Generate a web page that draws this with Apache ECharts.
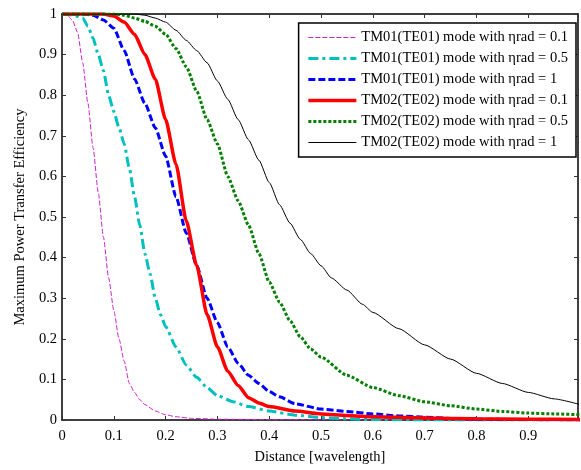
<!DOCTYPE html>
<html>
<head>
<meta charset="utf-8">
<script src="https://cdn.jsdelivr.net/npm/echarts@6/dist/echarts.min.js"></script>
<style>
  html, body { margin: 0; padding: 0; background: #fff; }
  #chart { width: 581px; height: 470px; }
</style>
</head>
<body>
<div id="chart"></div>
<script>
// series names (legend)
const names = [
  'TM01(TE01) mode with ηrad = 0.1',
  'TM01(TE01) mode with ηrad = 0.5',
  'TM01(TE01) mode with ηrad = 1',
  'TM02(TE02) mode with ηrad = 0.1',
  'TM02(TE02) mode with ηrad = 0.5',
  'TM02(TE02) mode with ηrad = 1',
];

// TM01, ηrad = 0.1
const x1 = [0, 0.01, 0.02, 0.03, 0.04, 0.05, 0.06, 0.07, 0.08, 0.09, 0.1, 0.11, 0.12, 0.13, 0.14, 0.15, 0.16, 0.18, 0.2, 0.22, 0.25, 0.3, 0.4, 0.6, 1];
const y1 = [1, 0.997, 0.985, 0.955, 0.88, 0.78, 0.67, 0.56, 0.45, 0.35, 0.27, 0.2, 0.145, 0.09, 0.068, 0.05, 0.038, 0.022, 0.013, 0.008, 0.004, 0.002, 0.001, 0.0005, 0];

// TM01, ηrad = 0.5
const x2 = [0, 0.02, 0.04, 0.05, 0.06, 0.07, 0.08, 0.09, 0.1, 0.11, 0.12, 0.13, 0.14, 0.15, 0.16, 0.17, 0.18, 0.19, 0.2, 0.22, 0.24, 0.26, 0.28, 0.3, 0.33, 0.36, 0.4, 0.45, 0.5, 0.55, 0.6, 0.7, 1];
const y2 = [1, 0.998, 0.99, 0.97, 0.94, 0.9, 0.86, 0.8, 0.76, 0.72, 0.68, 0.62, 0.55, 0.48, 0.41, 0.36, 0.3, 0.26, 0.23, 0.18, 0.135, 0.105, 0.08, 0.06, 0.045, 0.033, 0.022, 0.012, 0.006, 0.003, 0.001, 0, 0];

// TM01, ηrad = 1
const x3 = [0, 0.04, 0.06, 0.08, 0.1, 0.12, 0.14, 0.16, 0.18, 0.2, 0.22, 0.24, 0.26, 0.28, 0.3, 0.32, 0.34, 0.36, 0.38, 0.4, 0.42, 0.45, 0.5, 0.55, 0.6, 0.65, 0.7, 0.75, 0.8, 0.9, 1];
const y3 = [1, 1, 0.997, 0.985, 0.965, 0.91, 0.84, 0.78, 0.72, 0.65, 0.55, 0.46, 0.38, 0.3, 0.24, 0.18, 0.14, 0.11, 0.09, 0.07, 0.057, 0.04, 0.027, 0.021, 0.015, 0.01, 0.007, 0.004, 0.002, 0.001, 0];

// TM02, ηrad = 0.1
const x4 = [0, 0.08, 0.1, 0.12, 0.14, 0.16, 0.18, 0.2, 0.22, 0.24, 0.26, 0.28, 0.3, 0.32, 0.34, 0.36, 0.38, 0.4, 0.45, 0.5, 0.55, 0.6, 0.7, 0.8, 0.9, 1];
const y4 = [1, 1, 0.995, 0.98, 0.95, 0.9, 0.84, 0.74, 0.63, 0.49, 0.38, 0.26, 0.18, 0.12, 0.085, 0.055, 0.042, 0.033, 0.022, 0.015, 0.011, 0.008, 0.005, 0.003, 0.002, 0.001];

// TM02, ηrad = 0.5
const x5 = [0, 0.1, 0.12, 0.14, 0.16, 0.18, 0.2, 0.22, 0.24, 0.26, 0.28, 0.3, 0.32, 0.34, 0.36, 0.38, 0.4, 0.42, 0.44, 0.46, 0.48, 0.5, 0.55, 0.6, 0.65, 0.7, 0.75, 0.8, 0.85, 0.9, 0.95, 1];
const y5 = [1, 1, 0.997, 0.99, 0.982, 0.97, 0.95, 0.915, 0.87, 0.81, 0.74, 0.68, 0.6, 0.54, 0.48, 0.41, 0.34, 0.29, 0.245, 0.205, 0.175, 0.155, 0.11, 0.08, 0.06, 0.045, 0.035, 0.027, 0.021, 0.017, 0.015, 0.013];

// TM02, ηrad = 1
const x6 = [0, 0.14, 0.16, 0.18, 0.2, 0.22, 0.24, 0.26, 0.28, 0.3, 0.32, 0.34, 0.36, 0.38, 0.4, 0.42, 0.44, 0.46, 0.48, 0.5, 0.52, 0.55, 0.58, 0.6, 0.65, 0.7, 0.75, 0.8, 0.85, 0.9, 0.95, 1];
const y6 = [1, 1, 0.997, 0.99, 0.98, 0.96, 0.935, 0.91, 0.88, 0.835, 0.79, 0.74, 0.69, 0.64, 0.585, 0.53, 0.485, 0.445, 0.41, 0.38, 0.35, 0.32, 0.285, 0.265, 0.225, 0.185, 0.15, 0.115, 0.09, 0.068, 0.052, 0.038];

// y ticks
const yTicks = [0, 0.1, 0.2, 0.3, 0.4, 0.5, 0.6, 0.7, 0.8, 0.9, 1];

const xs = [x1, x2, x3, x4, x5, x6];
const ys = [y1, y2, y3, y4, y5, y6];

// 线型
const styles = [
  { color: '#CC22CC', width: 1, type: [5, 2] },
  { color: '#00BFBF', width: 3, type: [10, 4, 3, 4] },
  { color: '#0000FF', width: 3, type: [7, 3] },
  { color: '#FF0000', width: 3.5, type: 'solid' },
  { color: '#008000', width: 3, type: [3, 2] },
  { color: '#000000', width: 1, type: 'solid' },
];

const font = 'Liberation Serif';

const chart = echarts.init(document.getElementById('chart'), null, { renderer: 'canvas' });

const series = names.map((name, i) => ({
  name,
  type: 'line',
  xAxisIndex: 0,
  yAxisIndex: 0,
  data: xs[i].map((x, k) => [x, ys[i][k]]),
  symbol: 'none',
  smooth: 0.2,
  smoothMonotone: 'x',
  animation: false,
  lineStyle: {
    color: styles[i].color,
    width: styles[i].width,
    type: styles[i].type,
    cap: 'butt',
  },
  itemStyle: { color: styles[i].color },
  z: 2 + i,
}));

const axisCommon = {
  min: 0,
  interval: 0.1,
  splitLine: { show: false },
  axisLine: { show: true, onZero: false, lineStyle: { color: '#000', width: 1.5 } },
  axisTick: { show: true, inside: true, length: 4, lineStyle: { color: '#333', width: 1 } },
};

const option = {
  backgroundColor: '#fff',
  animation: false,
  grid: { left: 62, top: 14, right: 2, bottom: 46 },
  legend: {
    orient: 'vertical',
    right: 5,
    top: 23,
    data: names,
    itemWidth: 48,
    itemHeight: 11,
    itemGap: 6,
    padding: [7, 8, 7, 8],
    borderColor: '#000',
    borderWidth: 1.5,
    backgroundColor: '#fff',
    selectedMode: false,
    lineStyle: { width: 'inherit' },
    // hide the symbol drawn in the legend icon
    itemStyle: { opacity: 0, borderWidth: 0 },
    textStyle: { fontFamily: font, fontSize: 14.5, color: '#000' },
  },
  xAxis: [
    Object.assign({}, axisCommon, {
      type: 'value',
      max: 0.996,
      position: 'bottom',
      name: 'Distance [wavelength]',
      nameLocation: 'middle',
      nameGap: 30,
      nameTextStyle: { fontFamily: font, fontSize: 14.5, color: '#000' },
      axisLabel: {
        fontFamily: font,
        fontSize: 14.5,
        color: '#000',
        margin: 9,
        formatter: (v) => (v > 0.95 ? '' : String(Math.round(v * 10) / 10)),
      },
    }),
    Object.assign({}, axisCommon, {
      type: 'value',
      max: 0.996,
      position: 'top',
      axisLabel: { show: false },
    }),
  ],
  yAxis: [
    Object.assign({}, axisCommon, {
      type: 'value',
      max: 1,
      position: 'left',
      name: 'Maximum Power Transfer Efficiency',
      nameLocation: 'middle',
      nameGap: 34,
      nameTextStyle: { fontFamily: font, fontSize: 14.5, color: '#000' },
      axisLabel: {
        fontFamily: font,
        fontSize: 14.5,
        color: '#000',
        margin: 5,
        formatter: (v) => String(yTicks.find((t) => Math.abs(t - v) < 1e-6) ?? v),
      },
    }),
    Object.assign({}, axisCommon, {
      type: 'value',
      max: 1,
      position: 'right',
      axisLabel: { show: false },
    }),
  ],
  series,
};

chart.setOption(option);
</script>
</body>
</html>
